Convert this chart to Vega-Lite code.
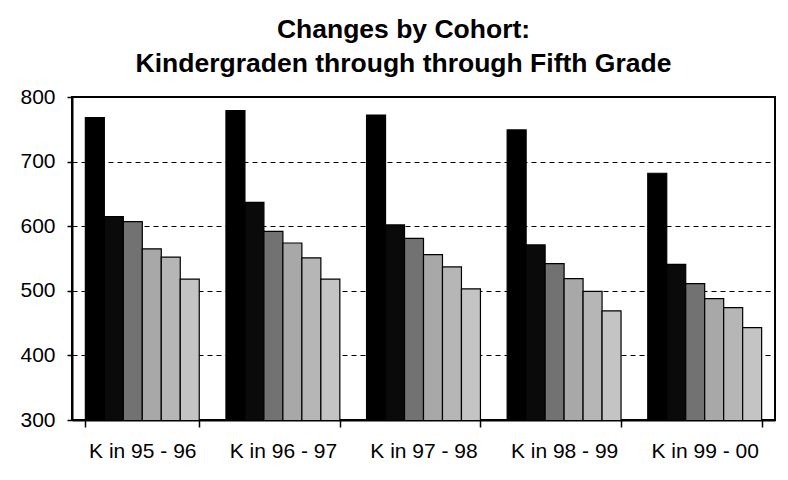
{
  "$schema": "https://vega.github.io/schema/vega-lite/v6.json",
  "autosize": {"type": "none"},
  "padding": {"left": 72, "top": 97, "right": 13, "bottom": 60},
  "width": 703,
  "height": 323,
  "background": "white",
  "title": {
    "text": ["Changes by Cohort:", "Kindergraden through through Fifth Grade"],
    "font": "Liberation Sans",
    "fontSize": 26.5,
    "fontWeight": "bold",
    "color": "black",
    "lineHeight": 34,
    "offset": 9,
    "dx": -20,
    "anchor": "middle"
  },
  "data": {
    "values": [
      {"cohort": "K in 95 - 96", "grade": "K", "value": 768},
      {"cohort": "K in 95 - 96", "grade": "1", "value": 615},
      {"cohort": "K in 95 - 96", "grade": "2", "value": 607},
      {"cohort": "K in 95 - 96", "grade": "3", "value": 565},
      {"cohort": "K in 95 - 96", "grade": "4", "value": 552},
      {"cohort": "K in 95 - 96", "grade": "5", "value": 518},
      {"cohort": "K in 96 - 97", "grade": "K", "value": 779},
      {"cohort": "K in 96 - 97", "grade": "1", "value": 637},
      {"cohort": "K in 96 - 97", "grade": "2", "value": 592},
      {"cohort": "K in 96 - 97", "grade": "3", "value": 574},
      {"cohort": "K in 96 - 97", "grade": "4", "value": 551},
      {"cohort": "K in 96 - 97", "grade": "5", "value": 518},
      {"cohort": "K in 97 - 98", "grade": "K", "value": 772},
      {"cohort": "K in 97 - 98", "grade": "1", "value": 602},
      {"cohort": "K in 97 - 98", "grade": "2", "value": 581},
      {"cohort": "K in 97 - 98", "grade": "3", "value": 556},
      {"cohort": "K in 97 - 98", "grade": "4", "value": 537},
      {"cohort": "K in 97 - 98", "grade": "5", "value": 503},
      {"cohort": "K in 98 - 99", "grade": "K", "value": 749},
      {"cohort": "K in 98 - 99", "grade": "1", "value": 571},
      {"cohort": "K in 98 - 99", "grade": "2", "value": 542},
      {"cohort": "K in 98 - 99", "grade": "3", "value": 519},
      {"cohort": "K in 98 - 99", "grade": "4", "value": 499},
      {"cohort": "K in 98 - 99", "grade": "5", "value": 469},
      {"cohort": "K in 99 - 00", "grade": "K", "value": 682},
      {"cohort": "K in 99 - 00", "grade": "1", "value": 541},
      {"cohort": "K in 99 - 00", "grade": "2", "value": 511},
      {"cohort": "K in 99 - 00", "grade": "3", "value": 488},
      {"cohort": "K in 99 - 00", "grade": "4", "value": 474},
      {"cohort": "K in 99 - 00", "grade": "5", "value": 443}
    ]
  },
  "mark": {"type": "bar", "stroke": "black", "strokeWidth": 1.2, "clip": true},
  "encoding": {
    "x": {
      "field": "cohort",
      "type": "nominal",
      "sort": null,
      "title": null,
      "scale": {"paddingInner": 0.19, "paddingOuter": 0.095},
      "axis": {
        "labelAngle": 0,
        "labelFont": "Liberation Sans",
        "labelFontSize": 21,
        "labelColor": "black",
        "labelPadding": 13,
        "tickBand": "extent",
        "tickSize": 7,
        "tickColor": "black",
        "tickWidth": 1.5,
        "domainColor": "black",
        "domainWidth": 2,
        "grid": false
      }
    },
    "xOffset": {
      "field": "grade",
      "type": "nominal",
      "sort": ["K", "1", "2", "3", "4", "5"],
      "scale": {"paddingInner": 0, "paddingOuter": 0}
    },
    "y": {
      "field": "value",
      "type": "quantitative",
      "title": null,
      "scale": {"domain": [300, 800], "nice": false, "zero": false},
      "axis": {
        "values": [300, 400, 500, 600, 700, 800],
        "labelFont": "Liberation Sans",
        "labelFontSize": 21,
        "labelColor": "black",
        "labelPadding": 12,
        "tickSize": 5,
        "tickColor": "black",
        "tickWidth": 1.5,
        "domainColor": "black",
        "domainWidth": 2,
        "grid": true,
        "gridColor": "black",
        "gridDash": [5, 4],
        "gridWidth": 1.2
      }
    },
    "color": {
      "field": "grade",
      "type": "nominal",
      "legend": null,
      "scale": {
        "domain": ["K", "1", "2", "3", "4", "5"],
        "range": ["#000000", "#0a0a0a", "#727272", "#a8a8a8", "#b6b6b6", "#c4c4c4"]
      }
    }
  },
  "config": {
    "view": {"stroke": "black", "strokeWidth": 2},
    "font": "Liberation Sans"
  }
}
